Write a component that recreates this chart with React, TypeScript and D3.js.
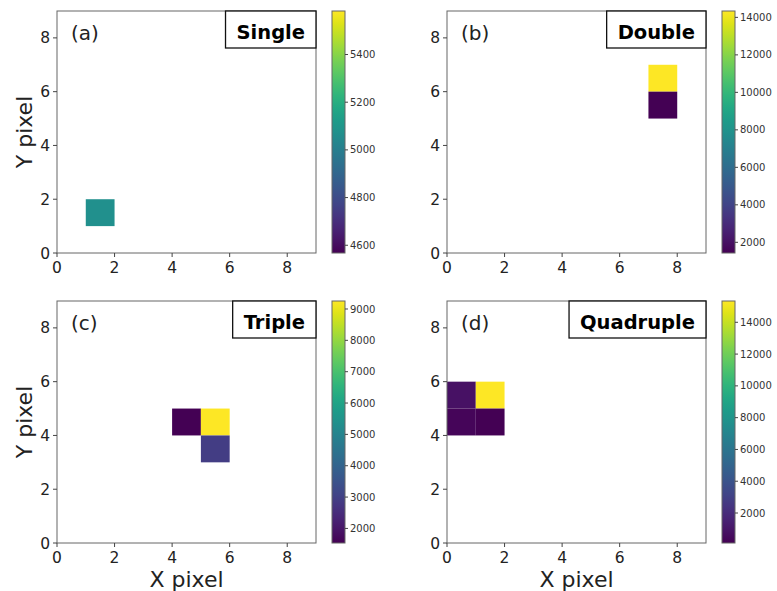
import React, { useEffect, useRef } from 'react';
import * as d3 from 'd3';

const panelLabels = ['(a)', '(b)', '(c)', '(d)'];
const panelTitles = ['Single', 'Double', 'Triple', 'Quadruple'];

// lit pixels: [x, y, counts]
const cellsSingle = [[1, 1, 5075]];
const cellsDouble = [[7, 6, 14340], [7, 5, 1430]];
const cellsTriple = [[4, 4, 1535], [5, 4, 9255], [5, 3, 2900]];
const cellsQuadruple = [[0, 5, 800], [1, 5, 15340], [0, 4, 300], [1, 4, 113]];

const cbarTicksSingle = [4600, 4800, 5000, 5200, 5400];
const cbarTicksDouble = [2000, 4000, 6000, 8000, 10000, 12000, 14000];
const cbarTicksTriple = [2000, 3000, 4000, 5000, 6000, 7000, 8000, 9000];
const cbarTicksQuadruple = [2000, 4000, 6000, 8000, 10000, 12000, 14000];

const axisTicks = [0, 2, 4, 6, 8];
const gridSize = 9;

const allCells = [cellsSingle, cellsDouble, cellsTriple, cellsQuadruple];
const allCbarTicks = [cbarTicksSingle, cbarTicksDouble, cbarTicksTriple, cbarTicksQuadruple];

export default function App() {
  const svgRef = useRef<SVGSVGElement>(null);

  useEffect(() => {
    if (!svgRef.current) return;
    const svg = d3.select(svgRef.current);
    svg.selectAll('*').remove();

    const W = 259, H = 242;
    const font = 'DejaVu Sans, sans-serif';
    const defs = svg.append('defs');

    allCells.forEach((cells, i) => {
      const col = i % 2, row = Math.floor(i / 2);
      const left = 57 + col * 390;
      const top = 11 + row * 290;
      const g = svg.append('g').attr('transform', `translate(${left},${top})`);

      const x = d3.scaleLinear().domain([0, gridSize]).range([0, W]);
      const y = d3.scaleLinear().domain([0, gridSize]).range([H, 0]);

      let [vmin, vmax] = d3.extent(cells, d => d[2]) as [number, number];
      if (vmin === vmax) { vmin = vmin * 0.9; vmax = vmax * 1.1; } // matplotlib nonsingular
      const color = d3.scaleSequential(d3.interpolateViridis).domain([vmin, vmax]);

      // pixels
      g.selectAll('.cell')
        .data(cells)
        .enter().append('rect')
        .attr('x', d => x(d[0]))
        .attr('y', d => y(d[1] + 1))
        .attr('width', d => x(d[0] + 1) - x(d[0]))
        .attr('height', d => y(d[1]) - y(d[1] + 1))
        .attr('fill', d => color(d[2]));

      // frame
      g.append('rect')
        .attr('width', W).attr('height', H)
        .attr('fill', 'none').attr('stroke', '#666').attr('stroke-width', 1);

      // ticks
      axisTicks.forEach(t => {
        g.append('line').attr('x1', x(t)).attr('x2', x(t)).attr('y1', H).attr('y2', H + 4)
          .attr('stroke', '#444');
        g.append('text').attr('x', x(t)).attr('y', H + 20)
          .attr('text-anchor', 'middle').attr('font-family', font).attr('font-size', 15.5)
          .attr('fill', '#222').text(t);
        g.append('line').attr('y1', y(t)).attr('y2', y(t)).attr('x1', 0).attr('x2', -4)
          .attr('stroke', '#444');
        g.append('text').attr('x', -7).attr('y', y(t)).attr('dy', '0.36em')
          .attr('text-anchor', 'end').attr('font-family', font).attr('font-size', 15.5)
          .attr('fill', '#222').text(t);
      });

      // panel letter
      g.append('text').attr('x', 14).attr('y', 29)
        .attr('font-family', font).attr('font-size', 20).attr('fill', '#222')
        .text(panelLabels[i]);

      // title box
      const title = g.append('text')
        .attr('font-family', font).attr('font-weight', 'bold').attr('font-size', 19.5)
        .attr('fill', '#000').attr('y', 27.5).attr('text-anchor', 'end').attr('x', W - 11)
        .text(panelTitles[i]);
      const tw = (title.node() as SVGTextElement).getComputedTextLength();
      g.insert('rect', 'text')
        .attr('x', W - tw - 22).attr('y', 0)
        .attr('width', tw + 22).attr('height', 37)
        .attr('fill', '#fff').attr('stroke', '#111').attr('stroke-width', 1.3);

      // axis titles
      if (row === 1) {
        g.append('text').attr('x', W / 2).attr('y', H + 44)
          .attr('text-anchor', 'middle').attr('font-family', font).attr('font-size', 22)
          .attr('fill', '#222').text('X pixel');
      }
      if (col === 0) {
        g.append('text')
          .attr('transform', `translate(${-25},${H / 2}) rotate(-90)`)
          .attr('text-anchor', 'middle').attr('font-family', font).attr('font-size', 22)
          .attr('fill', '#222').text('Y pixel');
      }

      // colorbar
      const gradId = `viridis-${i}`;
      const grad = defs.append('linearGradient').attr('id', gradId)
        .attr('x1', 0).attr('x2', 0).attr('y1', 1).attr('y2', 0);
      d3.range(0, 1.0001, 0.05).forEach(s => {
        grad.append('stop').attr('offset', s).attr('stop-color', d3.interpolateViridis(s));
      });
      const cb = g.append('g').attr('transform', `translate(${W + 16},0)`);
      const cbW = 13;
      const cy = d3.scaleLinear().domain([vmin, vmax]).range([H, 0]);
      cb.append('rect').attr('width', cbW).attr('height', H)
        .attr('fill', `url(#${gradId})`).attr('stroke', '#666').attr('stroke-width', 1);
      allCbarTicks[i].forEach(t => {
        cb.append('line').attr('x1', cbW).attr('x2', cbW + 3).attr('y1', cy(t)).attr('y2', cy(t))
          .attr('stroke', '#444');
        cb.append('text').attr('x', cbW + 5).attr('y', cy(t)).attr('dy', '0.36em')
          .attr('font-family', font).attr('font-size', 10).attr('fill', '#333').text(t);
      });
    });
  }, []);

  return (
    <svg ref={svgRef} width={777} height={591}
      style={{ position: 'absolute', left: 0, top: 0, background: '#fff' }} />
  );
}
